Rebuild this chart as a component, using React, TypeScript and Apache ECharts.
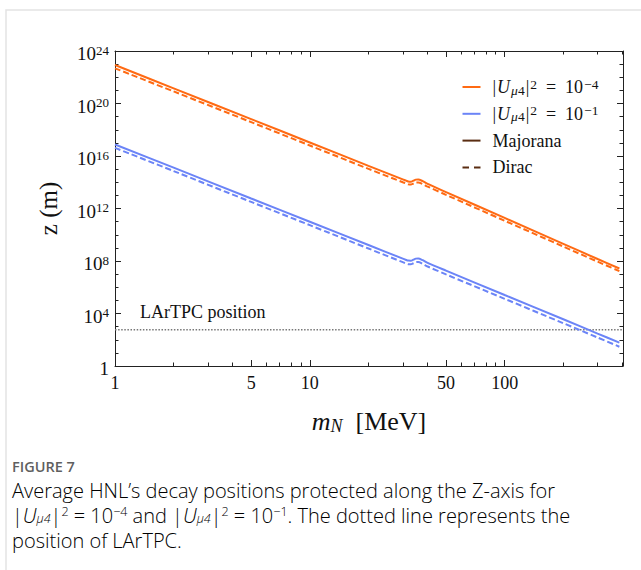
import React, { useEffect, useRef } from 'react';
import * as echarts from 'echarts';

// ---- data ----
const massMeV = [1, 2, 5, 10, 20, 30, 31, 32, 33, 34, 35, 36, 38, 40, 50, 100, 200, 300, 388];
// log10 of z (m)
const orangeMajorana = [22.93, 21.15, 18.81, 17.03, 15.25, 14.22, 14.14, 14.06, 14.04, 14.12, 14.2, 14.21, 14.08, 13.9, 13.25, 11.28, 9.31, 8.15, 7.43];
const orangeDirac = [22.68, 20.92, 18.58, 16.8, 15.02, 14.0, 13.92, 13.84, 13.82, 13.9, 13.98, 13.99, 13.86, 13.69, 13.04, 11.07, 9.1, 7.95, 7.23];
const blueMajorana = [16.88, 15.11, 12.76, 10.99, 9.22, 8.18, 8.1, 8.03, 8.02, 8.1, 8.18, 8.19, 8.06, 7.88, 7.27, 5.41, 3.56, 2.47, 1.78];
const blueDirac = [16.62, 14.85, 12.5, 10.73, 8.95, 7.91, 7.83, 7.76, 7.75, 7.83, 7.91, 7.92, 7.78, 7.6, 6.98, 5.12, 3.26, 2.17, 1.47];
const lartpcPosition = 574; // m
const xRange = [1, 405];
const xMajorTicks = [1, 5, 10, 50, 100];
const xMinorTicks = [2, 3, 4, 6, 7, 8, 9, 20, 30, 40, 60, 70, 80, 90, 200, 300, 400];
const yExpRange = [0, 24];

const SERIF = '"Liberation Serif", "Times New Roman", serif';
const SANS = '"Open Sans", "Noto Sans", sans-serif';
const ORANGE = '#ff6a13';
const BLUE = '#6b84f7';
const BROWN = '#5a2d12';
const AX = '#222';

const lg = (v: number) => Math.log10(v);

export default function App() {
  const ref = useRef<HTMLDivElement>(null);
  useEffect(() => {
    if (!ref.current) return;
    const chart = echarts.init(ref.current, undefined, { renderer: 'svg' });
    const xMax = lg(xRange[1]);
    const pts = (arr: number[]) => arr.map((v, i) => [lg(massMeV[i]), v]);
    const xBase = {
      type: 'value', min: lg(xRange[0]), max: xMax, gridIndex: 0,
      splitLine: { show: false },
    };
    const yBase = {
      type: 'value', min: yExpRange[0], max: yExpRange[1], gridIndex: 0,
      splitLine: { show: false },
    };
    const lineAx = { show: true, onZero: false, lineStyle: { color: AX, width: 1 } };
    const noLine = { show: false, onZero: false };
    const rich = {
      b: { fontFamily: SERIF, fontSize: 19, lineHeight: 20, color: '#111' },
      s: { fontFamily: SERIF, fontSize: 13, lineHeight: 10, verticalAlign: 'top', color: '#111' },
    };
    const legendRich = {
      r: { fontFamily: SERIF, fontSize: 18, lineHeight: 20, color: '#111' },
      p: { fontFamily: SERIF, fontSize: 18, lineHeight: 20, color: '#111', padding: [0, 0, 0, 7] },
      i: { fontFamily: SERIF, fontSize: 18, lineHeight: 20, fontStyle: 'italic', color: '#111', padding: [0, 1, 0, 1] },
      sbi: { fontFamily: SERIF, fontSize: 13.5, lineHeight: 10, verticalAlign: 'bottom', fontStyle: 'italic', color: '#111' },
      sb: { fontFamily: SERIF, fontSize: 13.5, lineHeight: 10, verticalAlign: 'bottom', color: '#111', padding: [0, 1, 0, 0] },
      sp: { fontFamily: SERIF, fontSize: 13.5, lineHeight: 10, verticalAlign: 'top', color: '#111', padding: [0, 0, 0, 1] },
    };
    const legendLabels: Record<string, string> = {
      U4: '{p||}{i|U}{sbi|μ}{sb|4}{r||}{sp|2}{r|  =  10}{sp|−4}',
      U1: '{p||}{i|U}{sbi|μ}{sb|4}{r||}{sp|2}{r|  =  10}{sp|−1}',
      Majorana: '{p|Majorana}',
      Dirac: '{p|Dirac}',
    };
    const CAP = '#737373';
    const capRich = {
      t: { fontFamily: SANS, fontSize: 20, lineHeight: 20, color: CAP, fontWeight: 300 },
      i: { fontFamily: SANS, fontSize: 20, lineHeight: 20, fontStyle: 'italic', color: CAP, fontWeight: 300 },
      sb: { fontFamily: SANS, fontSize: 12.5, lineHeight: 10, verticalAlign: 'bottom', fontStyle: 'italic', color: CAP, fontWeight: 300 },
      sp: { fontFamily: SANS, fontSize: 12.5, lineHeight: 9, verticalAlign: 'top', color: CAP, fontWeight: 300 },
    };
    const solidIcon = 'path://M0,0H18V2H0Z';
    const dashIcon = 'path://M0,0H6.5V2H0Z M11.5,0H18V2H11.5Z';
    const option: any = {
      animation: false,
      backgroundColor: '#fff',
      grid: { left: 115, top: 51, width: 508, height: 315, containLabel: false },
      xAxis: [
        {
          ...xBase, position: 'bottom', axisLine: lineAx,
          axisTick: { inside: true, length: 6, customValues: xMajorTicks.map(lg), lineStyle: { color: AX } },
          axisLabel: {
            customValues: xMajorTicks.map(lg), margin: 8,
            fontFamily: SERIF, fontSize: 18, color: '#111',
            formatter: (v: number) => String(Math.round(Math.pow(10, v))),
          },
          name: '{i|m}{sb|N}{r|  [MeV]}', nameLocation: 'middle', nameGap: 41,
          nameTextStyle: {
            rich: {
              i: { fontFamily: SERIF, fontSize: 26, fontStyle: 'italic', lineHeight: 28, color: '#111' },
              sb: { fontFamily: SERIF, fontSize: 18, fontStyle: 'italic', lineHeight: 15, verticalAlign: 'bottom', color: '#111' },
              r: { fontFamily: SERIF, fontSize: 26, lineHeight: 28, color: '#111' },
            },
          },
        },
        {
          ...xBase, position: 'bottom', axisLine: noLine,
          axisTick: { inside: true, length: 3.5, customValues: xMinorTicks.map(lg), lineStyle: { color: AX } },
          axisLabel: { show: false },
        },
        {
          ...xBase, position: 'top', axisLine: lineAx,
          axisTick: { inside: true, length: 6, customValues: xMajorTicks.map(lg), lineStyle: { color: AX } },
          axisLabel: { show: false },
        },
        {
          ...xBase, position: 'top', axisLine: noLine,
          axisTick: { inside: true, length: 3.5, customValues: xMinorTicks.map(lg), lineStyle: { color: AX } },
          axisLabel: { show: false },
        },
      ],
      yAxis: [
        {
          ...yBase, position: 'left', interval: 4, axisLine: lineAx,
          axisTick: { inside: true, length: 6, lineStyle: { color: AX } },
          axisLabel: {
            margin: 6, padding: [5, 0, 0, 0], fontFamily: SERIF, fontSize: 19, color: '#111',
            formatter: (v: number) => (v === 0 ? '{b|1}' : `{b|10}{s|${v}}`),
            rich,
          },
          name: 'z (m)', nameLocation: 'middle', nameGap: 54, nameRotate: 90,
          nameTextStyle: { fontFamily: SERIF, fontSize: 25, color: '#111' },
        },
        {
          ...yBase, position: 'left', interval: 1, axisLine: noLine,
          axisTick: { inside: true, length: 3.5, lineStyle: { color: AX } },
          axisLabel: { show: false },
        },
        {
          ...yBase, position: 'right', interval: 4, axisLine: lineAx,
          axisTick: { inside: true, length: 6, lineStyle: { color: AX } },
          axisLabel: { show: false },
        },
        {
          ...yBase, position: 'right', interval: 1, axisLine: noLine,
          axisTick: { inside: true, length: 3.5, lineStyle: { color: AX } },
          axisLabel: { show: false },
        },
      ],
      legend: {
        orient: 'vertical', left: 462.5, top: 77, padding: 0,
        itemWidth: 18, itemHeight: 2, itemGap: 6.8,
        data: [
          { name: 'U4', icon: solidIcon },
          { name: 'U1', icon: solidIcon },
          { name: 'Majorana', icon: solidIcon },
          { name: 'Dirac', icon: dashIcon },
        ],
        formatter: (name: string) => legendLabels[name],
        textStyle: { fontFamily: SERIF, fontSize: 18, lineHeight: 20, color: '#111', rich: legendRich },
        selectedMode: false,
      },
      series: [
        { name: 'U4', type: 'line', data: pts(orangeMajorana), symbol: 'none', smooth: 0.3, lineStyle: { color: ORANGE, width: 2 }, itemStyle: { color: ORANGE }, z: 3 },
        { name: 'U4 Dirac', type: 'line', data: pts(orangeDirac), symbol: 'none', smooth: 0.3, lineStyle: { color: ORANGE, width: 2, type: [6, 3] }, itemStyle: { color: ORANGE }, z: 3 },
        { name: 'U1', type: 'line', data: pts(blueMajorana), symbol: 'none', smooth: 0.3, lineStyle: { color: BLUE, width: 2 }, itemStyle: { color: BLUE }, z: 3 },
        { name: 'U1 Dirac', type: 'line', data: pts(blueDirac), symbol: 'none', smooth: 0.3, lineStyle: { color: BLUE, width: 2, type: [6, 3] }, itemStyle: { color: BLUE }, z: 3 },
        { name: 'Majorana', type: 'line', data: [], symbol: 'none', lineStyle: { color: BROWN, width: 2 }, itemStyle: { color: BROWN } },
        { name: 'Dirac', type: 'line', data: [], symbol: 'none', lineStyle: { color: BROWN, width: 2, type: [6, 4] }, itemStyle: { color: BROWN } },
        {
          name: 'LArTPC', type: 'line', symbol: 'none',
          data: [[lg(xRange[0]), lg(lartpcPosition)], [xMax, lg(lartpcPosition)]],
          lineStyle: { color: '#777', width: 1.5, type: [1.5, 1.6] }, z: 2,
        },
      ],
      graphic: [
        { type: 'rect', silent: true, z: -10, shape: { x: 6, y: 10, width: 700, height: 620 }, style: { fill: 'none', stroke: '#e3e3e3', lineWidth: 1.5 } },
        { type: 'text', silent: true, style: { x: 140, y: 312, text: 'LArTPC position', font: `18px ${SERIF}`, fill: '#111', verticalAlign: 'middle' } },
        { type: 'text', silent: true, style: { x: 12, y: 466, text: 'FIGURE 7', font: `600 14.5px ${SANS}`, fill: '#5f5f5f', verticalAlign: 'middle' } },
        { type: 'text', silent: true, style: { x: 12, y: 490, text: '{t|Average HNL’s decay positions protected along the Z-axis for}', rich: capRich, verticalAlign: 'middle' } },
        { type: 'text', silent: true, style: { x: 12, y: 515, text: '{t||}{i|U}{sb|μ4}{t||}{sp|2}{t| = 10}{sp|−4}{t| and |}{i|U}{sb|μ4}{t||}{sp|2}{t| = 10}{sp|−1}{t|. The dotted line represents the}', rich: capRich, verticalAlign: 'middle' } },
        { type: 'text', silent: true, style: { x: 12, y: 540, text: '{t|position of LArTPC.}', rich: capRich, verticalAlign: 'middle' } },
      ],
    };
    chart.setOption(option);
    return () => chart.dispose();
  }, []);
  return <div ref={ref} style={{ position: 'absolute', left: 0, top: 0, width: 641, height: 570, background: '#fff' }} />;
}
